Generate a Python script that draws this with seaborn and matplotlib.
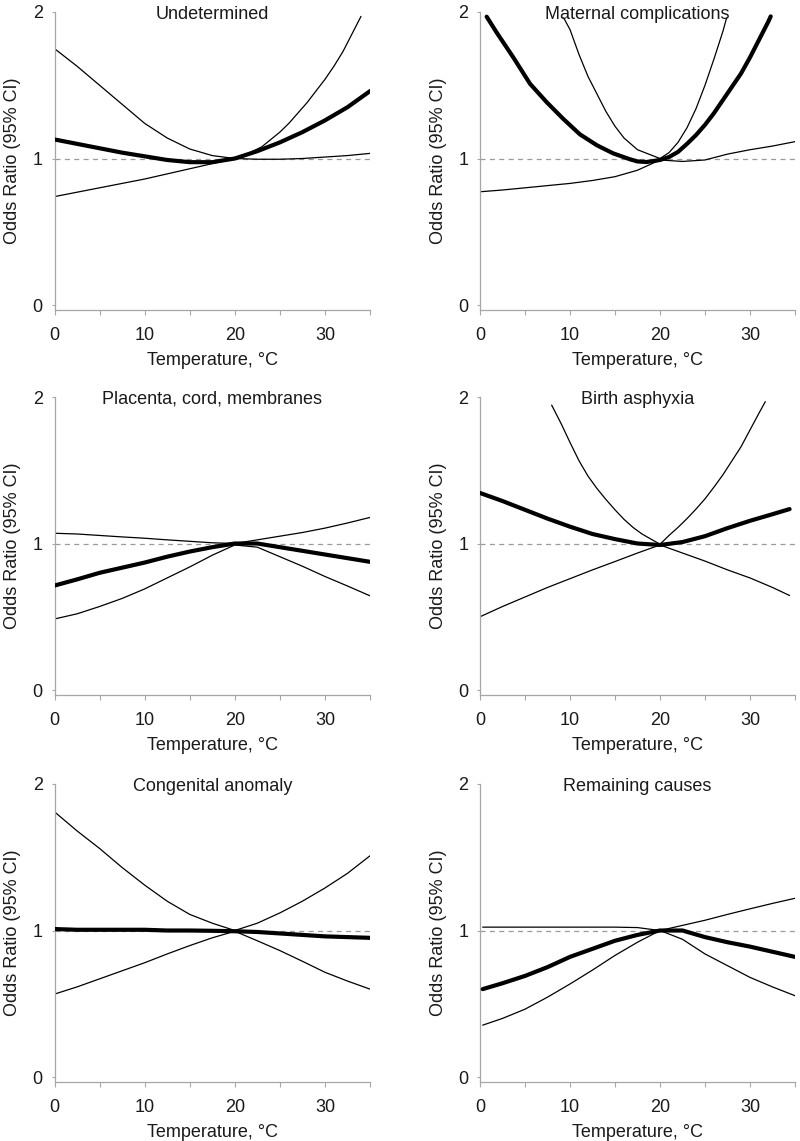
import numpy as np
import pandas as pd
import matplotlib
matplotlib.use("Agg")
import matplotlib.pyplot as plt
import seaborn as sns

sns.set_style("ticks")
plt.rcParams["font.family"] = ["Liberation Sans", "DejaVu Sans"]

# ---------------- data ----------------
TITLES = ["Undetermined", "Maternal complications",
          "Placenta, cord, membranes", "Birth asphyxia",
          "Congenital anomaly", "Remaining causes"]

GRID = [0, 2.5, 5, 7.5, 10, 12.5, 15, 17.5, 20, 22.5, 25, 27.5, 30, 32.5, 35]

# Undetermined
UND_OR = [1.13, 1.10, 1.07, 1.04, 1.015, 0.99, 0.975, 0.975, 1.0, 1.05, 1.11, 1.18, 1.26, 1.35, 1.46]
UND_UP_X = [0, 2.5, 5, 7.5, 10, 12.5, 15, 17.5, 20, 21, 22, 23, 24, 25, 26, 27, 28, 29, 30, 31, 32, 33, 34]
UND_UP = [1.75, 1.63, 1.50, 1.37, 1.24, 1.14, 1.065, 1.02, 1.0, 1.02, 1.05, 1.08, 1.13, 1.18, 1.24,
          1.31, 1.38, 1.46, 1.54, 1.63, 1.73, 1.85, 1.97]
UND_LO = [0.74, 0.77, 0.80, 0.83, 0.86, 0.895, 0.93, 0.965, 1.0, 0.995, 0.995, 1.0, 1.01, 1.02, 1.035]

# Maternal complications
MAT_X = [0.74, 1.85, 3.7, 5.56, 7.4, 9.26, 11.1, 13, 14.8, 16.7, 17.5, 18.5, 19.5, 20, 21, 22, 23,
         24, 25, 26, 27, 28, 29, 30, 31, 32, 32.3]
MAT_OR = [1.968, 1.86, 1.69, 1.51, 1.385, 1.27, 1.165, 1.09, 1.035, 0.994, 0.98, 0.976, 0.985,
          0.99, 1.01, 1.045, 1.10, 1.16, 1.23, 1.31, 1.40, 1.49, 1.58, 1.69, 1.81, 1.93, 1.97]
MAT_UP_X = [9.3, 10, 11, 12, 13, 14, 15, 16, 17.5, 20, 21, 22, 23, 24, 25, 26, 27, 27.4]
MAT_UP = [1.96, 1.88, 1.71, 1.56, 1.44, 1.32, 1.22, 1.14, 1.06, 1.0, 1.04, 1.11, 1.21, 1.34, 1.50,
          1.68, 1.87, 1.96]
MAT_LO = [0.773, 0.785, 0.80, 0.815, 0.83, 0.85, 0.876, 0.92, 0.99, 0.98, 0.99, 1.03, 1.06, 1.085, 1.115]

# Placenta, cord, membranes
PLA_OR = [0.713, 0.755, 0.80, 0.835, 0.87, 0.91, 0.945, 0.975, 1.0, 1.0, 0.975, 0.95, 0.925, 0.90, 0.875]
PLA_UP = [1.07, 1.065, 1.055, 1.045, 1.036, 1.025, 1.015, 1.005, 1.0, 1.025, 1.05, 1.075, 1.105, 1.14, 1.178]
PLA_LO = [0.485, 0.52, 0.57, 0.625, 0.69, 0.765, 0.84, 0.92, 0.99, 0.975, 0.91, 0.845, 0.775, 0.71, 0.643]

# Birth asphyxia
BIR_X = [0, 2.5, 5, 7.5, 10, 12.5, 15, 17.5, 20, 22.5, 25, 27.5, 30, 32.5, 34.4]
BIR_OR = [1.345, 1.29, 1.23, 1.17, 1.115, 1.065, 1.03, 1.0, 0.99, 1.01, 1.05, 1.105, 1.155, 1.20, 1.235]
BIR_UP_X = [7.96, 9, 10, 11, 12, 13, 14, 15, 16, 17, 18, 19, 20, 21, 22, 23, 24, 25, 26, 27, 28, 29,
            30, 31, 31.7]
BIR_UP = [1.945, 1.82, 1.69, 1.565, 1.46, 1.375, 1.30, 1.23, 1.165, 1.11, 1.065, 1.03, 0.995, 1.055,
          1.11, 1.17, 1.235, 1.305, 1.385, 1.47, 1.565, 1.66, 1.775, 1.89, 1.968]
BIR_LO = [0.50, 0.57, 0.635, 0.70, 0.76, 0.82, 0.877, 0.935, 0.99, 0.935, 0.88, 0.82, 0.765, 0.70, 0.645]

# Congenital anomaly
CON_OR = [1.01, 1.005, 1.005, 1.005, 1.005, 1.0, 1.0, 0.998, 0.995, 0.99, 0.98, 0.97, 0.96, 0.955, 0.95]
CON_UP = [1.81, 1.68, 1.56, 1.43, 1.31, 1.20, 1.11, 1.05, 1.0, 1.05, 1.12, 1.20, 1.29, 1.39, 1.51]
CON_LO = [0.566, 0.615, 0.67, 0.725, 0.78, 0.84, 0.897, 0.95, 0.995, 0.93, 0.863, 0.79, 0.715, 0.655, 0.60]

# Remaining causes
REM_X = [0.3, 2.5, 5, 7.5, 10, 12.5, 15, 17.5, 20, 22.5, 25, 27.5, 30, 32.5, 35]
REM_OR = [0.60, 0.64, 0.69, 0.75, 0.82, 0.875, 0.93, 0.97, 1.0, 1.0, 0.955, 0.92, 0.89, 0.855, 0.82]
REM_UP = [1.023, 1.023, 1.023, 1.023, 1.023, 1.023, 1.023, 1.02, 1.0, 1.035, 1.07, 1.11, 1.148, 1.185, 1.22]
REM_LO = [0.354, 0.40, 0.463, 0.545, 0.635, 0.73, 0.83, 0.92, 1.0, 0.94, 0.84, 0.76, 0.68, 0.615, 0.555]

X_TICKS = [0, 5, 10, 15, 20, 25, 30, 35]
X_TICK_LABELS = ["0", "", "10", "", "20", "", "30", ""]
Y_TICKS = [0, 1, 2]
X_LABEL = "Temperature, \u00b0C"
Y_LABEL = "Odds Ratio (95% CI)"

PANELS = [
    (GRID, UND_OR, UND_UP_X, UND_UP, GRID, UND_LO),
    (MAT_X, MAT_OR, MAT_UP_X, MAT_UP, GRID, MAT_LO),
    (GRID, PLA_OR, GRID, PLA_UP, GRID, PLA_LO),
    (BIR_X, BIR_OR, BIR_UP_X, BIR_UP, BIR_X, BIR_LO),
    (GRID, CON_OR, GRID, CON_UP, GRID, CON_LO),
    (REM_X, REM_OR, REM_X, REM_UP, REM_X, REM_LO),
]

# ---------------- figure ----------------
W, H = 800, 1141
fig = plt.figure(figsize=(W / 100, H / 100), dpi=100)

lefts = [54.5, 480]
widths = [315.5, 315]
tops = [12, 397, 784]
ax_h = 298

TXT = "#1a1a1a"
SPINE = "#a6a6a6"
FS = 13

for i, (title, panel) in enumerate(zip(TITLES, PANELS)):
    r, c = divmod(i, 2)
    left = lefts[c] / W
    bottom = 1 - (tops[r] + ax_h) / H
    ax = fig.add_axes([left, bottom, widths[c] / W, ax_h / H])
    x_or, y_or, x_up, y_up, x_lo, y_lo = panel

    ax.axhline(1, color="#9a9a9a", lw=0.9, dashes=(4, 3.5), zorder=1)
    sns.lineplot(x=x_up, y=y_up, ax=ax, color="black", lw=0.9, estimator=None, sort=False, zorder=2)
    sns.lineplot(x=x_lo, y=y_lo, ax=ax, color="black", lw=0.9, estimator=None, sort=False, zorder=2)
    sns.lineplot(x=x_or, y=y_or, ax=ax, color="black", lw=3.0, estimator=None, sort=False, zorder=3)

    ax.set_xlim(0, 35)
    ax.set_ylim(-0.034, 2.0)
    ax.set_xticks(X_TICKS)
    ax.set_xticklabels(X_TICK_LABELS)
    ax.set_yticks(Y_TICKS)
    ax.set_yticklabels([str(t) for t in Y_TICKS])
    ax.tick_params(axis="x", length=3.5, width=0.8, color=SPINE, labelsize=FS, labelcolor=TXT, pad=8.5)
    ax.tick_params(axis="y", length=2.5, width=0.8, color=SPINE, labelsize=FS, labelcolor=TXT, pad=6)
    sns.despine(ax=ax)
    for s in ("left", "bottom"):
        ax.spines[s].set_color(SPINE)
        ax.spines[s].set_linewidth(0.9)
    ax.set_xlabel(X_LABEL, fontsize=FS, color=TXT, labelpad=6)
    ax.set_ylabel(Y_LABEL, fontsize=FS, color=TXT, labelpad=8)
    ax.text(17.5, 1.985, title, ha="center", va="center", fontsize=FS, color=TXT, zorder=4)

fig.savefig("out.png", dpi=100)
